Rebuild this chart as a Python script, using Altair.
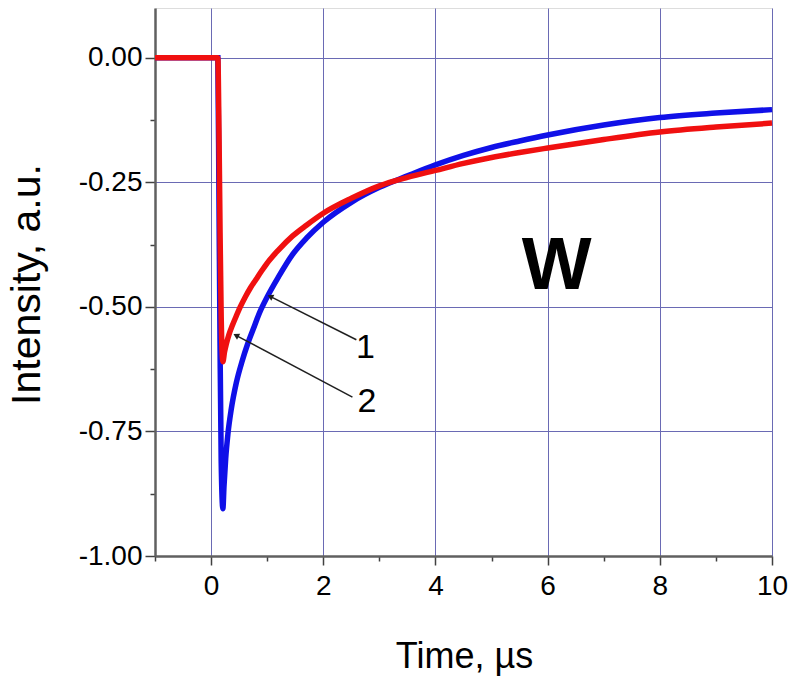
import altair as alt
import pandas as pd

# Curve 1 (red)
t1 = [-1.0, 0.12, 0.14, 0.16, 0.18, 0.21, 0.24, 0.27, 0.32, 0.38, 0.45, 0.52, 0.60, 0.70, 0.80,
      0.90, 1.0, 1.2, 1.45, 1.7, 2.0, 2.5, 3.0, 3.5, 4.0, 4.5, 5.0, 5.5, 6.0, 7.0, 8.0, 9.0, 10.0]
v1 = [0.0, 0.0, -0.14, -0.35, -0.52, -0.61, -0.59, -0.575, -0.555, -0.537, -0.518, -0.50, -0.482,
      -0.462, -0.445, -0.428, -0.412, -0.386, -0.358, -0.336, -0.312, -0.282, -0.257, -0.24,
      -0.226, -0.212, -0.2, -0.19, -0.181, -0.164, -0.149, -0.139, -0.131]

# Curve 2 (blue)
t2 = [-1.0, 0.12, 0.14, 0.16, 0.18, 0.21, 0.23, 0.26, 0.30, 0.36, 0.45, 0.55, 0.65, 0.75, 0.87,
      1.0, 1.2, 1.45, 1.7, 2.0, 2.5, 3.0, 3.5, 4.0, 4.5, 5.0, 5.5, 6.0, 7.0, 8.0, 9.0, 10.0]
v2 = [0.0, 0.0, -0.28, -0.58, -0.81, -0.905, -0.86, -0.805, -0.755, -0.705, -0.652, -0.61, -0.575,
      -0.545, -0.51, -0.48, -0.44, -0.395, -0.362, -0.33, -0.29, -0.26, -0.237, -0.215, -0.196,
      -0.18, -0.167, -0.155, -0.135, -0.12, -0.111, -0.104]

# Annotation arrows (start -> tip) and labels
arrow_x = [2.59, 2.52]
arrow_y = [-0.566, -0.681]
arrow_x2 = [1.07, 0.46]
arrow_y2 = [-0.48, -0.558]
arrow_angle = [297, 298]
label_text = ["1", "2"]
label_x = [2.75, 2.78]
label_y = [-0.582, -0.69]
big_text = ["W"]
big_x = [6.16]
big_y = [-0.42]

FONT = "Liberation Sans"
GRID = "#6a6ab4"

df1 = pd.DataFrame({"t": t1, "v": v1})
df2 = pd.DataFrame({"t": t2, "v": v2})
arrows = pd.DataFrame({"x": arrow_x, "y": arrow_y, "x2": arrow_x2, "y2": arrow_y2, "ang": arrow_angle})
labels = pd.DataFrame({"x": label_x, "y": label_y, "text": label_text})
bigdf = pd.DataFrame({"x": big_x, "y": big_y, "text": big_text})

xmajor = "datum.value % 2 == 0"
ymajor = "abs(datum.value*4 - round(datum.value*4)) < 0.001"

xscale = alt.Scale(domain=[-1, 10], nice=False, zero=False)
yscale = alt.Scale(domain=[-1.0, 0.1], nice=False, zero=False)

xaxis = alt.Axis(
    values=list(range(-1, 11)),
    format="d",
    labelExpr=f"{xmajor} ? datum.label : ''",
    tickSize={"condition": {"test": xmajor, "value": 9}, "value": 5},
    gridOpacity={"condition": {"test": xmajor, "value": 1}, "value": 0},
    gridColor=GRID, gridWidth=1,
    tickColor="#404040", tickWidth=1.5,
    domainColor="#606060", domainWidth=2.5,
    labelFontSize=28, labelFont=FONT, labelColor="black", labelPadding=7,
    labelFlush=False, labelOverlap=False,
    title="Time, µs", titleFont=FONT, titleFontSize=36, titleFontWeight="normal",
    titleColor="black", titleX=309, titleY=111, titleBaseline="alphabetic", titleAlign="center",
)
yvals = [-1.0 + 0.125 * i for i in range(9)]
yaxis = alt.Axis(
    values=yvals,
    format=".2f",
    labelExpr=f"{ymajor} ? replace(datum.label, '\u2212', '-') : ''",
    tickSize={"condition": {"test": ymajor, "value": 10}, "value": 5},
    gridOpacity={"condition": {"test": ymajor, "value": 1}, "value": 0},
    gridColor=GRID, gridWidth=1,
    tickColor="#404040", tickWidth=1.5,
    domainColor="#606060", domainWidth=2.5,
    labelFontSize=28, labelFont=FONT, labelColor="black", labelPadding=3,
    labelOverlap=False, labelFlush=False,
    title="Intensity, a.u.", titleFont=FONT, titleFontSize=41, titleFontWeight="normal",
    titleColor="black", titleX=-107, titleY=276, titleBaseline="bottom", titleAlign="center",
    titleAngle=270,
)

blue = alt.Chart(df2).mark_line(color="#1010e8", strokeWidth=5.5, interpolate="monotone").encode(
    x=alt.X("t:Q", scale=xscale, axis=xaxis),
    y=alt.Y("v:Q", scale=yscale, axis=yaxis),
)
red = alt.Chart(df1).mark_line(color="#f01010", strokeWidth=5.5, interpolate="monotone").encode(
    x="t:Q", y="v:Q"
)
rules = alt.Chart(arrows).mark_rule(color="#202020", strokeWidth=1.5).encode(
    x="x:Q", y="y:Q", x2="x2:Q", y2="y2:Q"
)
heads = alt.Chart(arrows).mark_point(shape="triangle", filled=True, color="#202020", size=45, opacity=1).encode(
    x="x2:Q", y="y2:Q", angle=alt.Angle("ang:Q", scale=None)
)
txt = alt.Chart(labels).mark_text(font=FONT, fontSize=34, color="black", align="center", baseline="middle").encode(
    x="x:Q", y="y:Q", text="text:N"
)
big = alt.Chart(bigdf).mark_text(font=FONT, fontSize=74, fontWeight="bold", color="black",
                                 align="center", baseline="middle").encode(
    x="x:Q", y="y:Q", text="text:N"
)

chart = alt.layer(blue, red, rules, heads, txt, big).properties(
    width=617, height=548,
    autosize=alt.AutoSizeParams(type="none"),
    padding={"left": 155, "top": 8, "right": 16, "bottom": 123},
).configure_view(
    stroke="#a0a0a0", strokeWidth=2
).configure(background="white")

chart.save("out.html", embed_options={"renderer": "svg", "actions": False})
